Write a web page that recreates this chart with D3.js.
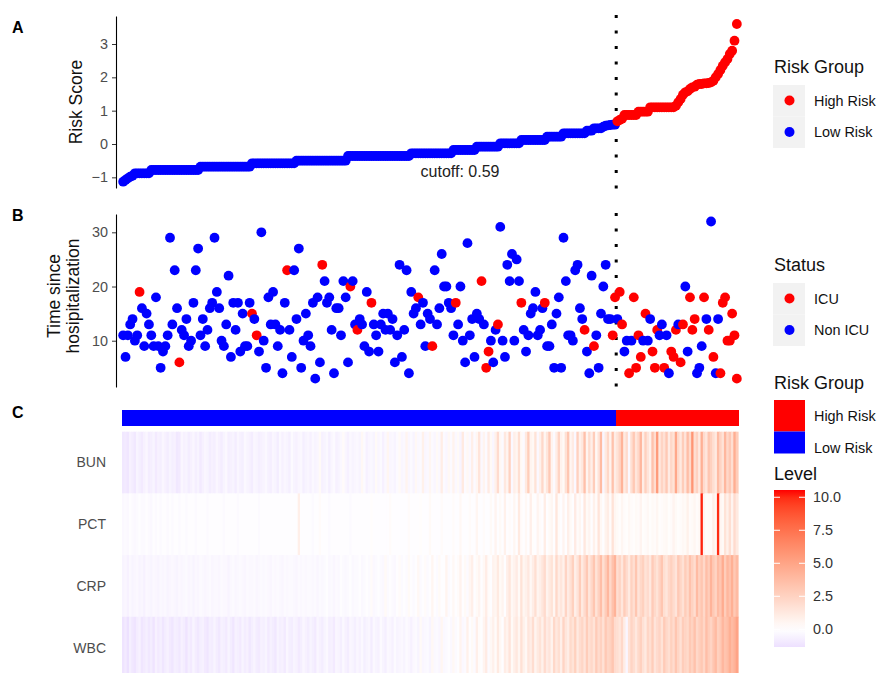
<!DOCTYPE html>
<html>
<head>
<meta charset="utf-8">
<script src="https://cdn.jsdelivr.net/npm/d3@7"></script>
<style>
  body { margin: 0; background: #fff; }
  svg { font-family: "Liberation Sans", Arial, sans-serif; }
</style>
</head>
<body>
<svg id="chart" width="877" height="673"></svg>
<script>
// ---- data (patients sorted by risk score) ----
const riskScore = [
  -1.13,-1.08,-1.03,-0.98,-0.95,
  -0.88,-0.88,-0.88,-0.88,-0.88,-0.88,-0.88,
  -0.78,-0.78,-0.78,-0.78,-0.78,-0.78,-0.78,-0.78,-0.78,-0.78,-0.78,-0.78,-0.78,-0.78,-0.78,-0.78,-0.78,-0.78,-0.78,-0.78,-0.78,
  -0.68,-0.68,-0.68,-0.68,-0.68,-0.68,-0.68,-0.68,-0.68,-0.68,-0.68,-0.68,-0.68,-0.68,-0.68,-0.68,-0.68,-0.68,-0.68,-0.68,-0.68,-0.68,
  -0.58,-0.58,-0.58,-0.58,-0.58,-0.58,-0.58,-0.58,-0.58,-0.58,-0.58,-0.58,-0.58,-0.58,-0.58,-0.58,-0.58,-0.58,-0.58,
  -0.5,-0.5,-0.5,-0.5,-0.5,-0.5,-0.5,-0.5,-0.5,-0.5,-0.5,-0.5,-0.5,-0.5,-0.5,-0.5,-0.5,-0.5,-0.5,-0.5,-0.5,-0.5,
  -0.36,-0.36,-0.36,-0.36,-0.36,-0.36,-0.36,-0.36,-0.36,-0.36,-0.36,-0.36,-0.36,-0.36,-0.36,-0.36,-0.36,-0.36,-0.36,-0.36,-0.36,-0.36,-0.36,-0.36,-0.36,-0.36,-0.36,
  -0.28,-0.28,-0.28,-0.28,-0.28,-0.28,-0.28,-0.28,-0.28,-0.28,-0.28,-0.28,-0.28,-0.28,-0.28,-0.28,-0.28,-0.28,
  -0.18,-0.18,-0.18,-0.18,-0.18,-0.18,-0.18,-0.18,-0.18,-0.18,
  -0.08,-0.08,-0.08,-0.08,-0.08,-0.08,-0.08,-0.08,-0.08,-0.08,
  0.02,0.02,0.02,0.02,0.02,0.02,0.02,0.02,0.02,
  0.12,0.12,0.12,0.12,0.12,0.12,0.12,0.12,0.12,0.12,0.12,
  0.22,0.22,0.22,0.22,0.22,0.22,0.22,
  0.32,0.32,0.32,0.32,0.32,0.32,0.32,0.32,0.32,0.32,
  0.4,0.4,0.4,
  0.47,0.47,0.47,0.47,
  0.52,0.55,0.56,0.57,0.58,0.58,
  0.68,0.72,0.76,
  0.87,0.87,0.87,0.87,0.87,0.87,
  0.97,0.97,0.97,0.97,0.97,
  1.1,1.1,1.1,1.1,1.1,1.1,1.1,1.1,1.1,1.1,1.1,
  1.15,1.25,1.35,1.48,1.55,1.58,1.65,1.7,1.72,1.78,1.8,1.8,1.82,1.82,1.83,1.85,1.9,2.0,2.1,2.22,2.35,2.45,2.55,2.7,2.8,3.1,3.6
];

const hospTime = [
  11,7,11,13,14,10,11,19,16,9,15,13,11,9,18,9,5,8,9,11,
  29,13,23,16,6,12,11,14,9,10,17,23,27,11,14,9,12,16,17,29,
  19,16,10,9,13,22,7,17,12,17,8,15,9,9,17,15,14,11,8,30,
  10,5,18,13,
  19,13,9,12,4,17,23,12,7,23,14,27,5,10,15,11,9,17,3,18,
  6,24,21,17,18,12,4,16,16,11,21,18,6,20,21,13,12,14,13,9,
  19,8,17,13,11,8,13,15,12,15,12,14,6,11,24,7,12,23,4,19,
  15,16,18,13,17,9,
  15,14,9,23,13,16,26,20,20,17,16,11,17,13,20,10,6,28,11,14,
  7,15,14,21,13,5,8,10,6,12,13,31,10,7,24,21,26,10,25,21,
  17,12,8,11,15,16,19,11,12,16,17,9,9,13,5,15,18,5,29,21,
  11,11,10,23,24,16,
  14,12,8,4,22,9,11,5,15,20,24,14,14,11,18,14,19,13,8,10,
  4,10,18,5,11,7,10,15,10,14,8,5,12,11,13,5,11,4,8,7,
  12,13,6,13,20,8,18,12,14,4,5,9,18,14,12,32,7,4,14,4,
  17,18,10,10,15,11,3
];

// 1 = ICU, 0 = Non ICU
const icuStatus = [
  0,0,0,0,0,0,0,1,0,0, 0,0,0,0,0,0,0,0,0,0, 0,0,0,0,1,0,0,0,0,0, 0,0,0,0,0,0,0,0,0,0,
  0,0,0,0,0,0,0,0,0,0, 0,0,0,0,0,1,0,1,0,0, 0,0,0,0,
  0,0,0,0,0,0,1,0,0,0, 0,0,0,0,0,0,0,0,0,0, 0,1,0,0,0,0,0,0,0,0, 0,0,0,1,0,0,1,0,0,0,
  0,0,1,0,0,0,0,0,0,0, 0,0,0,0,0,0,0,0,0,0, 0,0,1,0,0,0,
  0,0,1,0,0,0,0,0,0,0, 0,0,1,0,0,0,0,0,0,0, 0,0,0,1,0,1,1,0,0,0, 1,0,0,0,0,0,0,0,0,0,
  1,0,0,0,0,0,0,0,0,0, 1,0,0,0,0,0,0,0,0,0, 0,0,0,0,0,0,
  0,1,0,0,0,1,0,0,0,0, 0,0,0,1,1,0,1,1,0,0, 1,0,1,1,1,1,0,1,0,0, 1,1,1,0,0,1,0,0,1,1,
  1,0,1,1,0,0,1,1,1,0, 0,0,1,0,1,0,1,0,0,1, 1,1,1,1,1,1,1
];

const bunLevel = [
  -1.0,-0.9,-1.1,-0.6,-0.8,-1.0,-0.5,-0.7,-0.9,-0.6,-0.4,-0.8,-0.7,-0.5,-0.9,-0.6,-0.7,-0.4,-0.6,-0.8,
  -0.5,-0.7,-0.6,-1.0,-0.9,-0.4,-0.6,-0.5,-0.8,-0.6,-0.4,-0.7,-0.5,-0.9,-0.6,-0.4,-0.5,-0.8,-0.6,-0.7,
  -0.4,-0.6,-0.8,-0.5,-0.3,-0.7,-0.6,-0.5,-0.8,-0.4,-0.6,-0.7,-0.3,-0.5,-0.6,-0.8,-0.4,-0.5,-0.7,-0.6,
  -0.5,-0.3,-0.6,-0.7,-0.4,-0.5,-0.8,-0.3,-0.6,-0.4,-0.5,-0.7,-0.2,-0.5,-0.6,-0.4,-0.3,-0.7,-0.5,-0.4,
  -0.6,-0.3,-0.5,-0.4,0.3,-0.6,-0.5,-0.3,-0.7,-0.4,-0.2,-0.6,-0.5,-0.3,0.2,-0.4,-0.6,-0.3,-0.5,-0.4,
  -0.3,-0.5,0.4,-0.2,-0.6,-0.4,-0.3,-0.5,0.3,-0.4,-0.2,-0.6,-0.3,0.5,-0.4,-0.3,-0.5,-0.2,0.3,-0.4,
  -0.3,0.6,-0.4,-0.2,-0.5,0.4,-0.3,-0.2,0.8,-0.4,-0.3,0.5,-0.2,-0.4,0.3,-0.3,1.0,-0.2,-0.4,0.4,
  -0.2,0.7,-0.3,0.3,-0.5,1.2,-0.2,0.4,-0.3,0.9,-0.2,0.5,1.5,-0.3,0.6,-0.2,1.1,0.3,-0.4,0.8,
  2.0,0.4,-0.2,1.3,0.6,2.5,-0.3,0.9,0.5,1.8,0.3,-0.2,1.2,2.8,0.6,0.4,1.6,-0.3,0.8,2.2,
  0.5,1.4,3.0,0.6,-0.2,1.0,2.4,0.7,0.3,1.7,3.2,0.5,1.1,-0.3,2.6,0.8,1.3,3.5,0.6,1.9,
  0.9,2.8,0.4,1.5,3.8,-0.4,1.2,2.2,0.7,3.4,1.0,
  1.6,2.4,4.2,1.2,2.0,-0.3,1.8,3.0,1.4,2.2,4.0,1.0,2.6,1.5,0.8,3.4,1.9,5.5,1.3,2.4,
  1.7,3.0,1.1,2.2,1.6,4.8,2.0,1.2,2.8,1.5,3.6,2.1,5.8,1.8,2.5,1.2,4.4,2.0,1.4,3.2,
  2.6,1.8,1.2,3.8,2.4,1.6,4.0,2.2,3.0,1.8,4.5,2.8
];

const pctLevel = [
  -0.3,-0.2,-0.3,-0.1,-0.2,-0.3,-0.2,-0.1,-0.2,-0.2,-0.1,-0.2,-0.3,-0.1,-0.2,-0.1,-0.2,-0.1,-0.1,-0.2,
  -0.1,-0.2,-0.1,-0.1,-0.2,-0.1,-0.1,-0.2,-0.1,-0.1,-0.1,-0.2,-0.1,-0.1,-0.1,-0.1,-0.2,-0.1,-0.1,-0.1,
  -0.1,-0.1,-0.1,-0.2,-0.1,-0.1,-0.1,-0.1,-0.1,-0.2,-0.1,-0.1,-0.1,-0.1,-0.1,-0.1,-0.1,-0.1,-0.2,-0.1,
  -0.1,-0.1,-0.1,-0.1,-0.1,-0.1,-0.1,-0.1,-0.1,-0.1,-0.1,-0.1,-0.1,-0.1,-0.1,0.9,-0.1,-0.1,-0.1,-0.1,
  -0.1,-0.2,-0.1,-0.1,0.2,-0.1,-0.1,-0.1,-0.2,-0.1,-0.1,-0.1,-0.1,-0.1,-0.1,-0.1,-0.1,-0.2,-0.1,-0.1,
  -0.1,-0.1,-0.1,-0.1,-0.1,-0.1,0.1,-0.1,-0.1,-0.1,-0.1,-0.1,-0.1,-0.1,0.2,-0.1,-0.1,-0.1,-0.1,-0.1,
  -0.1,-0.1,0.2,-0.1,-0.1,-0.1,-0.1,0.1,-0.1,-0.1,-0.1,0.3,-0.1,-0.1,-0.1,-0.1,0.2,-0.1,-0.1,-0.1,
  -0.1,0.2,-0.1,-0.1,0.4,-0.1,-0.1,-0.1,0.2,-0.1,-0.1,0.5,-0.1,-0.1,0.2,-0.1,-0.1,0.3,-0.1,0.6,
  -0.1,0.3,-0.1,0.8,-0.1,0.2,-0.1,0.5,-0.1,1.2,0.2,-0.1,0.4,-0.1,0.9,0.1,-0.1,0.6,0.2,-0.1,
  1.0,-0.1,0.3,0.5,-0.1,1.4,0.2,-0.1,0.6,-0.1,0.9,0.3,-0.1,1.1,0.2,0.5,-0.1,1.3,0.3,0.6,
  -0.1,0.8,0.2,1.5,0.4,-0.1,0.7,1.0,0.2,1.6,0.5,
  0.3,0.1,0.5,0.2,0.1,0.4,0.2,0.1,0.3,0.2,0.6,0.1,0.2,0.4,0.1,0.3,0.2,0.5,0.1,0.2,
  0.3,0.4,0.1,0.2,0.6,0.3,0.1,0.2,0.4,0.3,0.8,0.2,0.3,0.5,0.2,0.4,
  10.2,0.6,0.2,0.3,0.2,0.9,0.4,10.0,
  0.5,0.3,1.6,0.8,1.8,0.6,2.0,1.2
];

const crpLevel = [
  -0.5,-0.4,-0.6,-0.3,-0.5,-0.4,-0.3,-0.5,-0.4,-0.6,-0.3,-0.4,-0.5,-0.3,-0.4,-0.5,-0.3,-0.4,-0.3,-0.5,
  -0.4,-0.3,-0.4,-0.5,-0.3,-0.4,-0.3,-0.2,-0.4,-0.3,-0.5,-0.3,-0.4,-0.2,-0.3,-0.4,-0.3,-0.2,-0.4,-0.3,
  -0.3,-0.4,-0.2,-0.3,-0.3,-0.5,-0.3,-0.2,-0.4,-0.3,-0.2,-0.3,-0.4,-0.2,-0.3,-0.3,-0.2,-0.4,-0.3,-0.2,
  -0.3,-0.2,-0.3,-0.4,-0.2,-0.3,-0.2,-0.3,-0.4,-0.2,-0.3,-0.2,-0.2,-0.3,-0.4,-0.2,-0.3,-0.2,-0.3,-0.2,
  -0.2,-0.3,-0.2,-0.4,-0.2,-0.3,-0.2,-0.1,-0.3,-0.2,-0.4,-0.2,-0.3,-0.1,-0.2,-0.3,-0.2,-0.1,-0.3,-0.2,
  -0.2,-0.1,-0.3,-0.2,-0.1,-0.2,0.2,-0.3,-0.2,-0.1,-0.2,-0.3,0.3,-0.2,-0.1,-0.2,-0.3,-0.1,0.2,-0.2,
  -0.1,-0.2,0.3,-0.1,-0.2,-0.1,0.4,-0.2,-0.1,0.2,-0.2,-0.1,0.5,-0.1,-0.2,0.3,-0.1,-0.1,0.6,-0.2,
  -0.1,0.4,-0.1,0.2,0.7,-0.1,0.3,-0.2,0.5,0.9,-0.1,0.3,0.6,-0.1,0.4,1.0,0.2,-0.1,0.7,0.5,
  1.2,0.3,0.6,-0.1,0.9,1.4,0.4,0.7,1.1,0.3,1.6,0.5,0.8,1.3,0.4,1.0,1.8,0.6,0.9,1.4,
  2.0,0.7,1.2,1.6,0.5,2.2,1.0,1.4,0.8,2.4,1.1,1.7,2.6,0.9,1.5,2.8,1.2,2.0,3.0,1.4,
  2.2,3.2,1.6,2.5,3.6,1.8,2.8,4.0,2.2,3.4,4.2,
  1.8,2.4,1.4,2.8,2.0,1.2,2.5,1.8,3.2,1.5,2.2,2.6,1.6,2.0,1.3,2.9,2.1,1.6,2.4,3.2,
  1.8,1.4,2.2,2.6,2.0,1.5,3.0,2.3,1.7,2.8,2.1,3.4,2.5,1.9,3.8,2.6,3.2,2.2,3.6,2.8,
  4.2,3.0,2.4,3.8,3.2,4.6,2.8,4.0,3.4,4.4,3.0,3.8
];

const wbcLevel = [
  -1.2,-0.9,-1.3,-0.7,-1.0,-1.2,-0.8,-0.6,-1.1,-0.9,-0.7,-1.0,-0.8,-1.2,-0.6,-0.9,-0.7,-1.1,-0.8,-0.6,
  -0.9,-1.1,-0.7,-0.8,-1.0,-0.6,-0.8,-1.2,-0.7,-0.9,-0.5,-0.8,-1.0,-0.7,-0.6,-0.9,-1.1,-0.7,-0.8,-0.5,
  -0.8,-1.0,-0.6,-0.7,-0.9,-0.5,-0.8,-1.1,-0.6,-0.7,-0.9,-0.5,-0.8,-0.6,-1.0,-0.7,-0.5,-0.8,-0.9,-0.6,
  -0.7,-0.5,-0.9,-0.6,-0.8,-1.0,-0.5,-0.7,-0.6,-0.9,-0.4,-0.7,-0.8,-0.5,-0.6,-0.9,-0.7,-0.4,-0.6,-0.8,
  -0.5,-0.7,-0.9,-0.4,-0.6,-0.8,-0.5,-0.3,-0.7,-0.6,-0.9,-0.4,-0.5,-0.7,-0.3,-0.6,-0.8,-0.4,-0.5,-0.7,
  -0.4,-0.6,-0.3,-0.7,-0.5,-0.4,-0.8,-0.3,-0.5,-0.6,-0.2,-0.5,-0.7,-0.3,-0.4,-0.6,-0.2,-0.5,-0.4,-0.3,
  -0.5,-0.2,-0.4,-0.6,-0.3,-0.2,-0.5,0.3,-0.4,-0.3,-0.2,-0.5,0.4,-0.3,-0.2,-0.4,0.5,-0.3,-0.2,-0.1,
  -0.3,0.4,-0.2,-0.1,0.6,-0.3,-0.2,0.8,-0.1,0.3,-0.2,0.9,0.2,-0.1,0.6,1.1,-0.2,0.4,0.8,0.2,
  1.2,0.4,-0.1,1.0,0.7,1.5,0.3,0.9,1.3,0.5,1.7,0.8,0.4,1.4,1.0,1.9,0.6,1.2,1.6,0.8,
  2.0,1.1,1.5,0.7,2.2,1.3,1.8,0.9,2.4,1.4,1.0,2.1,1.6,2.6,1.2,1.9,2.3,1.5,2.8,1.8,
  2.2,1.6,2.9,2.0,2.5,1.7,3.0,2.3,2.6,3.2,2.0,
  1.8,1.4,2.2,1.0,-0.4,1.6,2.4,1.9,1.3,2.1,2.6,1.7,1.2,2.3,1.8,2.8,1.5,2.0,2.4,1.6,
  2.9,2.2,1.8,2.6,2.0,3.2,2.3,1.7,2.8,2.4,2.1,3.0,2.5,3.4,2.2,2.7,3.1,2.3,3.6,2.8,
  2.4,3.2,3.8,2.6,3.0,4.0,3.3,3.6,4.4,3.8,4.2,5.0
];

const markers = ["BUN", "PCT", "CRP", "WBC"];
const markerLevels = { BUN: bunLevel, PCT: pctLevel, CRP: crpLevel, WBC: wbcLevel };
const cutoff = 0.59;
const riskTicks = [-1, 0, 1, 2, 3];
const timeTicks = [10, 20, 30];
const levelTicks = [0, 2.5, 5, 7.5, 10];
const riskGroups = ["High Risk", "Low Risk"];
const statusGroups = ["ICU", "Non ICU"];
const levelRange = [-1.34, 10.55];

// ---- setup ----
const N = riskScore.length;
const RED = "#ff0000", BLUE = "#0000ff";
const svg = d3.select("#chart");

const x = d3.scaleBand().domain(d3.range(N)).range([122, 738]);
const cx = i => x(i) + x.bandwidth() / 2;
const nLow = riskScore.filter(d => d <= cutoff).length;
const cutX = x(nLow);

const yRisk = d3.scaleLinear().domain([-1.32, 3.84]).range([188, 16]);
const yTime = d3.scaleLinear().domain([1.46, 33.38]).range([387, 214]);

// diverging fill like scale_fill_gradient2 (white at 0)
const maxAbs = d3.max(levelRange.map(Math.abs));
function levelColor(v) {
  if (v >= 0) return d3.interpolateLab("#ffffff", RED)(Math.min(v / maxAbs, 1));
  return d3.interpolateLab("#ffffff", BLUE)(Math.min(-v / maxAbs, 1));
}

function styleAxis(g) {
  g.select(".domain").attr("stroke", "#000").attr("stroke-width", 1.1);
  g.selectAll(".tick line").attr("stroke", "#333");
  g.selectAll(".tick text").attr("fill", "#4d4d4d").attr("font-size", 14.4);
}

// ---- panel A: risk score ----
svg.append("g")
   .attr("transform", "translate(116,0)")
   .call(d3.axisLeft(yRisk).tickValues(riskTicks).tickSize(4).tickSizeOuter(0).tickPadding(4)
           .tickFormat(d => d < 0 ? "\u2212" + Math.abs(d) : d))
   .call(styleAxis);

svg.append("line")
   .attr("x1", cutX).attr("x2", cutX)
   .attr("y1", 15).attr("y2", 190)
   .attr("stroke", "#000").attr("stroke-width", 3)
   .attr("stroke-dasharray", "3,12.5");

svg.append("g")
   .selectAll("circle")
   .data(riskScore)
   .join("circle")
   .attr("cx", (d, i) => cx(i))
   .attr("cy", d => yRisk(d))
   .attr("r", 4.9)
   .attr("fill", d => d > cutoff ? RED : BLUE);

svg.append("text")
   .attr("x", 460).attr("y", 177)
   .attr("text-anchor", "middle")
   .attr("font-size", 16).attr("fill", "#222")
   .text("cutoff: " + cutoff);

svg.append("text")
   .attr("transform", "translate(81.5,102) rotate(-90)")
   .attr("text-anchor", "middle").attr("font-size", 17.5).attr("fill", "#111")
   .text("Risk Score");

// ---- panel B: time since hospitalization ----
svg.append("g")
   .attr("transform", "translate(116,0)")
   .call(d3.axisLeft(yTime).tickValues(timeTicks).tickSize(4).tickSizeOuter(0).tickPadding(4))
   .call(styleAxis);

svg.append("line")
   .attr("x1", cutX).attr("x2", cutX)
   .attr("y1", 213).attr("y2", 387)
   .attr("stroke", "#000").attr("stroke-width", 3)
   .attr("stroke-dasharray", "3,12.5");

svg.append("g")
   .selectAll("circle")
   .data(hospTime)
   .join("circle")
   .attr("cx", (d, i) => cx(i))
   .attr("cy", d => yTime(d))
   .attr("r", 4.9)
   .attr("fill", (d, i) => icuStatus[i] === 1 ? RED : BLUE);

const bTitle = svg.append("text")
   .attr("transform", "translate(60,296) rotate(-90)")
   .attr("text-anchor", "middle").attr("font-size", 17.5).attr("fill", "#111");
bTitle.append("tspan").attr("x", 0).attr("dy", 0).text("Time since");
bTitle.append("tspan").attr("x", 0).attr("dy", 18.5).text("hosipitalization");

// ---- panel C: heatmap ----
const rows = d3.scaleBand().domain(markers).range([431.7, 678.5]);

svg.append("g")
   .attr("shape-rendering", "crispEdges")
   .selectAll("rect")
   .data(riskScore)
   .join("rect")
   .attr("x", (d, i) => x(i))
   .attr("width", x.bandwidth() + 0.6)
   .attr("y", 409.5).attr("height", 16)
   .attr("fill", d => d > cutoff ? RED : BLUE);

markers.forEach(m => {
  svg.append("g")
     .selectAll("rect")
     .data(markerLevels[m])
     .join("rect")
     .attr("x", (d, i) => x(i))
     .attr("width", x.bandwidth() + 0.6)
     .attr("y", rows(m))
     .attr("height", rows.bandwidth() + 0.5)
     .attr("fill", d => levelColor(d));

  svg.append("text")
     .attr("x", 106).attr("y", rows(m) + rows.bandwidth() / 2)
     .attr("dy", "0.35em").attr("text-anchor", "end")
     .attr("font-size", 14).attr("fill", "#4d4d4d")
     .text(m);
});

// ---- panel letters ----
[["A", 33], ["B", 221], ["C", 418]].forEach(([t, y]) => {
  svg.append("text").attr("x", 12).attr("y", y)
     .attr("font-size", 16).attr("font-weight", "bold").attr("fill", "#000")
     .text(t);
});

// ---- legends ----
function pointLegend(title, labels, colors, titleY, keyTop) {
  const g = svg.append("g");
  g.append("text").attr("x", 774).attr("y", titleY)
   .attr("font-size", 18).attr("fill", "#111").text(title);
  labels.forEach((lab, k) => {
    const yk = keyTop + k * 31.5;
    g.append("rect").attr("x", 773).attr("y", yk).attr("width", 32).attr("height", 31.5)
     .attr("fill", "#f2f2f2");
    g.append("circle").attr("cx", 789.5).attr("cy", yk + 15.5).attr("r", 5)
     .attr("fill", colors[k]);
    g.append("text").attr("x", 814).attr("y", yk + 15.5).attr("dy", "0.35em")
     .attr("font-size", 14.4).attr("fill", "#111").text(lab);
  });
}
pointLegend("Risk Group", riskGroups, [RED, BLUE], 73, 85);
pointLegend("Status", statusGroups, [RED, BLUE], 271, 283);

// heatmap annotation legend
svg.append("text").attr("x", 774).attr("y", 389)
   .attr("font-size", 18).attr("fill", "#111").text("Risk Group");
riskGroups.forEach((lab, k) => {
  svg.append("rect").attr("x", 774).attr("y", 400 + k * 31.5)
     .attr("width", 31).attr("height", k === 0 ? 31.5 : 22)
     .attr("fill", k === 0 ? RED : BLUE);
  svg.append("text").attr("x", 814).attr("y", 416 + k * 31.5).attr("dy", "0.35em")
     .attr("font-size", 14.4).attr("fill", "#111").text(lab);
});

// Level colour bar
svg.append("text").attr("x", 774).attr("y", 480)
   .attr("font-size", 18).attr("fill", "#111").text("Level");

const yLevel = d3.scaleLinear().domain(levelRange).range([647, 490]);
const grad = svg.append("defs").append("linearGradient")
   .attr("id", "levelGrad")
   .attr("x1", 0).attr("y1", 1).attr("x2", 0).attr("y2", 0);
d3.range(0, 1.0001, 0.05).forEach(t => {
  const v = levelRange[0] + t * (levelRange[1] - levelRange[0]);
  grad.append("stop").attr("offset", t).attr("stop-color", levelColor(v));
});
svg.append("rect").attr("x", 774).attr("y", 490).attr("width", 31).attr("height", 157)
   .attr("fill", "url(#levelGrad)");

levelTicks.forEach(v => {
  const yy = yLevel(v);
  svg.append("line").attr("x1", 774).attr("x2", 780).attr("y1", yy).attr("y2", yy)
     .attr("stroke", "#fff").attr("stroke-width", 1);
  svg.append("line").attr("x1", 799).attr("x2", 805).attr("y1", yy).attr("y2", yy)
     .attr("stroke", "#fff").attr("stroke-width", 1);
  svg.append("text").attr("x", 813).attr("y", yy).attr("dy", "0.35em")
     .attr("font-size", 14.4).attr("fill", "#333").text(v.toFixed(1));
});
</script>
</body>
</html>
